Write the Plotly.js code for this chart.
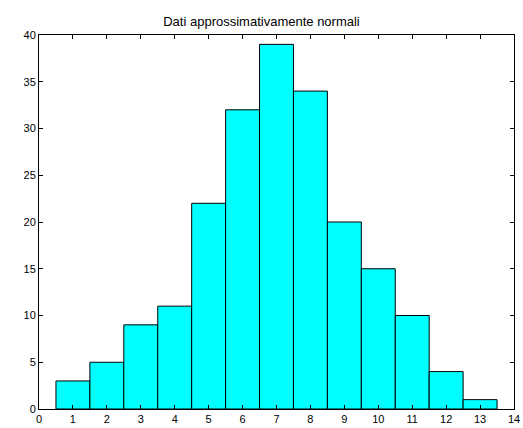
<!DOCTYPE html>
<html>
<head>
<meta charset="utf-8">
<script src="https://cdn.plot.ly/plotly-3.0.1.min.js"></script>
<style>html,body{margin:0;padding:0;background:#fff;}#chart{width:523px;height:428px;}</style>
</head>
<body>
<div id="chart"></div>
<script>
const binCenters = [1, 2, 3, 4, 5, 6, 7, 8, 9, 10, 11, 12, 13];
const counts = [3, 5, 9, 11, 22, 32, 39, 34, 20, 15, 10, 4, 1];
const xTicks = [0, 1, 2, 3, 4, 5, 6, 7, 8, 9, 10, 11, 12, 13, 14];
const yTicks = [0, 5, 10, 15, 20, 25, 30, 35, 40];
const titleText = "Dati approssimativamente normali";

const trace = {
  type: 'bar',
  x: binCenters,
  y: counts,
  width: 1,
  marker: {color: '#00ffff', line: {color: '#000000', width: 1}},
  hoverinfo: 'x+y'
};

const layout = {
  width: 523,
  height: 428,
  margin: {l: 39, r: 9, t: 35, b: 19},
  paper_bgcolor: '#ffffff',
  plot_bgcolor: '#ffffff',
  font: {family: 'Liberation Sans, Arial, sans-serif', size: 11, color: '#000'},
  title: {text: titleText, x: 0.5, xanchor: 'center', y: 1, yref: 'paper', yanchor: 'bottom', pad: {b: 9}, font: {size: 13, color: '#000'}},
  showlegend: false,
  bargap: 0,
  xaxis: {
    range: [0, 14], tickvals: xTicks, ticktext: xTicks.map(String),
    ticks: 'inside', ticklen: 4, tickcolor: '#000', showline: true, linecolor: '#000', linewidth: 1,
    mirror: 'ticks', showgrid: false, zeroline: false, fixedrange: true
  },
  yaxis: {
    range: [0, 40], tickvals: yTicks, ticktext: yTicks.map(String),
    ticks: 'inside', ticklen: 4, tickcolor: '#000', showline: true, linecolor: '#000', linewidth: 1,
    mirror: 'ticks', showgrid: false, zeroline: false, fixedrange: true
  }
};

Plotly.newPlot('chart', [trace], layout, {displayModeBar: false, staticPlot: true});
</script>
</body>
</html>
